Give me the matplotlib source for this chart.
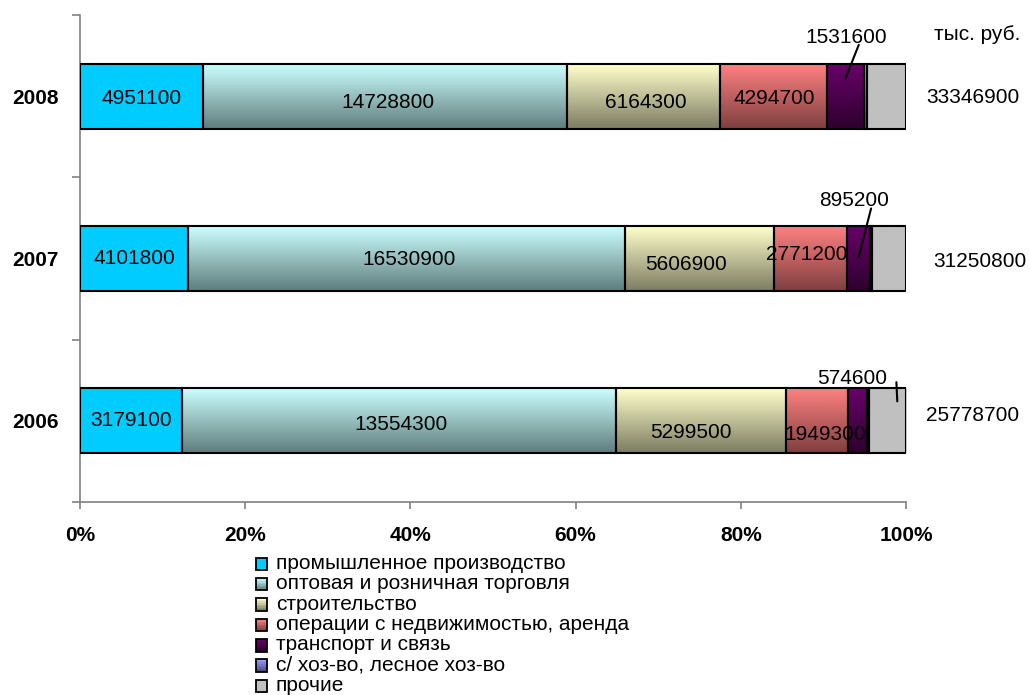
import numpy as np
import matplotlib
matplotlib.use("Agg")
import matplotlib.pyplot as plt
from matplotlib.patches import Rectangle
from matplotlib.colors import to_rgb
from matplotlib.legend_handler import HandlerBase

plt.rcParams['font.family'] = ['Liberation Sans', 'DejaVu Sans']

# data (тыс. руб.)
years = ['2006', '2007', '2008']
sectors = ['промышленное производство', 'оптовая и розничная торговля', 'строительство',
           'операции с недвижимостью, аренда', 'транспорт и связь',
           'с/ хоз-во, лесное хоз-во', 'прочие']
industry = [3179100, 4101800, 4951100]
trade = [13554300, 16530900, 14728800]
construction = [5299500, 5606900, 6164300]
realty = [1949300, 2771200, 4294700]
transport = [574600, 895200, 1531600]
agri = [67000, 60000, 110000]
other = [1154900, 1284800, 1566400]
totals = [25778700, 31250800, 33346900]

series = [industry, trade, construction, realty, transport, agri, other]

# gradient colours top -> bottom
grads = [('#00CCFF', '#00CCFF'), ('#CCFFFF', '#5F7D7D'), ('#FFFFCC', '#7C7C62'),
         ('#FF8080', '#7E4040'), ('#680068', '#2E002E'), ('#9999FF', '#4D4D80'),
         ('#C0C0C0', '#C0C0C0')]


def grad_img(c1, c2, n=64):
    a, b = np.array(to_rgb(c1)), np.array(to_rgb(c2))
    t = np.linspace(0, 1, n)[:, None]
    return (a + (b - a) * t)[:, None, :]


class GradHandler(HandlerBase):
    def __init__(self, c1, c2):
        super().__init__()
        self.c1, self.c2 = c1, c2

    def create_artists(self, legend, orig, xd, yd, w, h, fs, trans):
        arts = []
        n = 8
        a, b = np.array(to_rgb(self.c1)), np.array(to_rgb(self.c2))
        for i in range(n):
            c = a + (b - a) * (i / (n - 1))
            arts.append(Rectangle((xd, yd + h - (i + 1) * h / n), w, h / n,
                                  facecolor=c, edgecolor='none', transform=trans))
        arts.append(Rectangle((xd, yd), w, h, facecolor='none', edgecolor='black',
                              lw=1.3, transform=trans))
        return arts


fig = plt.figure(figsize=(10.3, 6.95), dpi=100)
ax = fig.add_axes([80 / 1030, 1 - 502 / 695, 826 / 1030, 487 / 695])

ypos = np.arange(len(years))
tot = np.array(series, dtype=float).sum(axis=0)
fracs = [np.array(s) / tot for s in series]

left = np.zeros(len(years))
handles = []
patches_by_series = []
for k, f in enumerate(fracs):
    bars = ax.barh(ypos, f, left=left, height=0.4, facecolor='none',
                   edgecolor='black', lw=1.5, zorder=3)
    for p in bars:
        x0, y0, w, h = p.get_x(), p.get_y(), p.get_width(), p.get_height()
        ax.imshow(grad_img(*grads[k]), extent=(x0, x0 + w, y0, y0 + h),
                  aspect='auto', origin='upper', zorder=2, interpolation='bilinear')
    handles.append(bars)
    patches_by_series.append((left.copy(), f))
    left = left + f

ax.set_xlim(0, 1)
ax.set_ylim(-0.5, 2.5)

# inside labels: offsets in pixels (dx, dy) per [series][year]
inside_offsets = {
    0: [(0, 0), (0, 0), (0, -2)],
    1: [(2, -4), (2, -1), (3, -6)],
    2: [(-10, -12), (-13, -6), (2, -6)],
    3: [(8, -14), (-3, 4), (1, -2)],
}
for k in range(4):
    lft, f = patches_by_series[k]
    for i in range(len(years)):
        dx, dy = inside_offsets[k][i]
        ax.annotate(f'{series[k][i]}', (lft[i] + f[i] / 2, ypos[i]),
                    xytext=(dx, dy), textcoords='offset pixels',
                    ha='center', va='center', fontsize=15, zorder=5)

# transport labels with leader lines
lft, f = patches_by_series[4]
lead = [  # (dx frac, dy data) of leader end, text offset px, relpos
    (0.048, 0.12, (-45, 23), (1.13, 0.3)),
    (0.0, 0.01, (-5, 56), (0.75, 0.1)),
    (0.0, 0.11, (1, 41), (0.65, 0.1)),
]
for i in range(len(years)):
    dxf, dyd, off, rp = lead[i]
    ax.annotate(f'{transport[i]}', (lft[i] + f[i] / 2 + dxf, ypos[i] + dyd),
                xytext=off, textcoords='offset pixels', ha='center', va='center',
                fontsize=15, zorder=6, annotation_clip=False,
                arrowprops=dict(arrowstyle='-', color='black', lw=1.5,
                                relpos=rp, patchA=None, shrinkA=0, shrinkB=0))

# totals on the right
tot_x = [1.08, 1.089, 1.081]
tot_dy = [0.035, -0.018, -0.008]
for i in range(len(years)):
    ax.text(tot_x[i], ypos[i] + tot_dy[i], f'{totals[i]}', ha='center', va='center',
            fontsize=15, clip_on=False)
ax.text(1.086, 2.5 - 19 / 162.3, 'тыс. руб.', ha='center', va='center',
        fontsize=15, clip_on=False)

# axes styling
for s in ['top', 'right']:
    ax.spines[s].set_visible(False)
for s in ['left', 'bottom']:
    ax.spines[s].set_color('#808080')
    ax.spines[s].set_linewidth(1.2)

ax.set_yticks(ypos)
ax.set_yticklabels(years, fontsize=15, fontweight='bold')
ax.set_yticks(np.arange(-0.5, 2.6, 1), minor=True)
ax.tick_params(axis='y', which='major', length=0, pad=15.5)
ax.tick_params(axis='y', which='minor', length=6, color='#808080', width=1.2)

ax.set_xticks(np.arange(0, 1.01, 0.2))
ax.set_xticklabels([f'{int(round(v * 100))}%' for v in np.arange(0, 1.01, 0.2)],
                   fontsize=15, fontweight='bold')
ax.tick_params(axis='x', length=5, color='#808080', width=1.2, pad=12.5)

leg = fig.legend(handles, sectors, loc='upper left',
                 bbox_to_anchor=(256 / 1030, 1 - 554 / 695),
                 frameon=False, fontsize=15, labelspacing=0.065,
                 handlelength=0.55, handleheight=0.55, handletextpad=0.4,
                 borderpad=0.0, borderaxespad=0,
                 handler_map={h: GradHandler(*grads[k]) for k, h in enumerate(handles)})

fig.savefig('out.png', dpi=100)
